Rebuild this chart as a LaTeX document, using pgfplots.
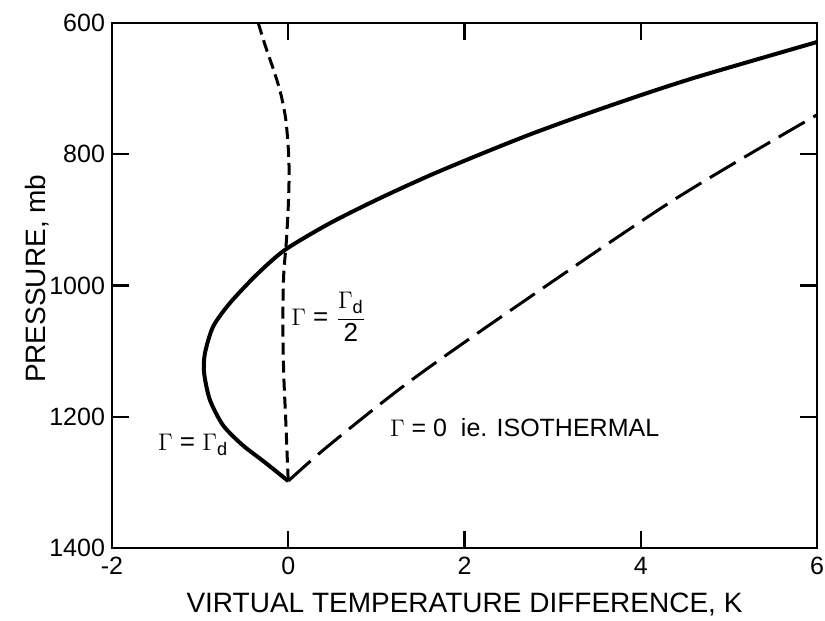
\documentclass[border=0pt]{standalone}
\usepackage{fontspec}
\setmainfont{Liberation Sans}
\setsansfont{Liberation Sans}
\usepackage{pgfplots}
\pgfplotsset{compat=1.18}
\begin{document}
\begin{tikzpicture}
\path[use as bounding box] (-56pt,-36.5pt) rectangle (356.5pt,274pt);
\begin{axis}[
  at={(0,0)}, anchor=south west,
  scale only axis, width=352.5pt, height=262.5pt,
  xmin=-2, xmax=6, ymin=600, ymax=1400,
  y dir=reverse,
  xtick={-2,0,2,4,6}, ytick={600,800,1000,1200,1400},
  tick align=inside, major tick length=8.5pt,
  axis line style={line width=1.25pt},
  every tick/.style={line width=1.1pt, black},
  /pgf/number format/assume math mode=true,
  /pgf/number format/1000 sep={},
  tick label style={font=\fontsize{12.5}{15}\selectfont},
  xticklabel style={yshift=-1pt},
  label style={font=\fontsize{14}{16}\selectfont},
  xlabel={VIRTUAL TEMPERATURE DIFFERENCE, K},
  ylabel={PRESSURE, mb},
  x label style={at={(axis description cs:0.5,-0.1219)}, anchor=base},
  y label style={at={(axis description cs:-0.095,0.513)}, anchor=base},
  clip=false,
]
% Gamma = Gamma_d (solid)
\addplot[black, line width=2pt, smooth, tension=0.45] coordinates {
  (0,1298) (-0.26,1270) (-0.52,1243) (-0.74,1213) (-0.89,1174)
  (-0.955,1133) (-0.945,1103) (-0.854,1063) (-0.67,1028) (-0.37,985)
  (-0.04,946) (0.474,905) (1.04,867) (1.61,832) (2.18,800) (2.74,770)
  (3.31,742) (4.0,710) (4.67,681) (6,629)
};
% Gamma = Gamma_d / 2 (short dashed)
\addplot[black, line width=1.5pt, smooth, tension=0.5, dash pattern=on 6pt off 3pt] coordinates {
  (-0.34,600) (-0.26,635) (-0.17,670) (-0.09,705) (-0.03,745) (0.0,790)
  (0.01,830) (0.0,880) (-0.02,930) (-0.05,980) (-0.06,1030) (-0.06,1080)
  (-0.05,1140) (-0.03,1200) (-0.012,1260) (0,1298)
};
% Gamma = 0 isothermal (long dashed)
\addplot[black, line width=1.5pt, smooth, tension=0.5, dash pattern=on 15pt off 5pt] coordinates {
  (0,1298) (0.44,1246) (1.35,1149) (2.5,1040) (4.37,870) (6,740)
};
\node[font=\fontsize{13}{15}\selectfont] at (axis cs:-1.08,1243) {$\Gamma$ = $\Gamma$\textsubscript{d}};
\node[font=\fontsize{13}{15}\selectfont] at (axis cs:0.46,1048) {$\Gamma$ = $\displaystyle\frac{\Gamma_{\mathsf{d}}}{\mathsf{2}}$};
\node[font=\fontsize{12.5}{15}\selectfont, anchor=west] at (axis cs:1.075,1217) {$\Gamma$ = 0\ \ ie. ISOTHERMAL};
\end{axis}
\end{tikzpicture}
\end{document}
